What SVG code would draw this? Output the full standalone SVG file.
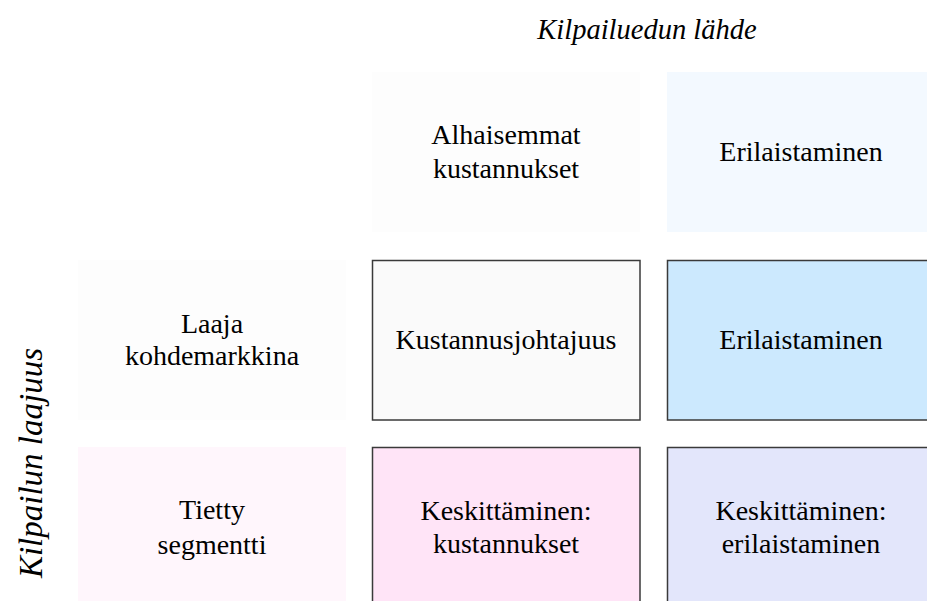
<svg xmlns="http://www.w3.org/2000/svg" width="927" height="601" viewBox="0 0 927 601">
<style>
.t{font-family:"Liberation Serif","Times New Roman",serif;font-size:28px;fill:#000;text-anchor:middle}
.i{font-style:italic}
.b{stroke:#3a3a3a;stroke-width:1.5}
</style>
<rect width="927" height="601" fill="#ffffff"/>
<text class="t i" x="647" y="39" style="font-size:28.5px">Kilpailuedun lähde</text>
<text class="t i" transform="translate(42,463) rotate(-90)" x="0" y="0" style="font-size:33px">Kilpailun laajuus</text>
<g id="h-cost">
<rect x="372" y="72" width="268" height="160" fill="#fdfdfd"/>
<text class="t" x="506" y="144">Alhaisemmat</text>
<text class="t" x="506" y="178">kustannukset</text>
</g>
<g id="h-diff">
<rect x="667" y="72" width="268" height="160" fill="#f3f9ff"/>
<text class="t" x="801" y="161">Erilaistaminen</text>
</g>
<g id="r-broad">
<rect x="78" y="260" width="268" height="160" fill="#fdfdfd"/>
<text class="t" x="212" y="333">Laaja</text>
<text class="t" x="212" y="365">kohdemarkkina</text>
</g>
<g id="r-segment">
<rect x="78" y="447" width="268" height="160" fill="#fff6fc"/>
<text class="t" x="212" y="519">Tietty</text>
<text class="t" x="212" y="554">segmentti</text>
</g>
<g id="c-costlead">
<rect class="b" x="372.5" y="260.5" width="267.5" height="159.5" fill="#fafafa"/>
<text class="t" x="506" y="349">Kustannusjohtajuus</text>
</g>
<g id="c-diff">
<rect class="b" x="667.5" y="260.5" width="268" height="159.5" fill="#cce9fe"/>
<text class="t" x="801" y="349">Erilaistaminen</text>
</g>
<g id="c-focuscost">
<rect class="b" x="372.5" y="447.5" width="267.5" height="160" fill="#ffe4f7"/>
<text class="t" x="506" y="520">Keskittäminen:</text>
<text class="t" x="506" y="553">kustannukset</text>
</g>
<g id="c-focusdiff">
<rect class="b" x="667.5" y="447.5" width="268" height="160" fill="#e3e6fb"/>
<text class="t" x="801" y="520">Keskittäminen:</text>
<text class="t" x="801" y="553">erilaistaminen</text>
</g>
<g id="connectors"/>
</svg>
